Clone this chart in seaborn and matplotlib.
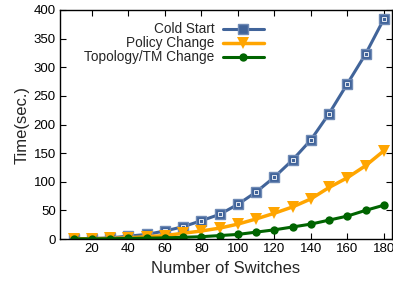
import pandas as pd
import matplotlib
matplotlib.use("Agg")
import matplotlib.pyplot as plt
import seaborn as sns

# Data
switches = [10, 20, 30, 40, 50, 60, 70, 80, 90, 100, 110, 120, 130, 140, 150, 160, 170, 180]
cold_start = [0.5, 0.8, 2, 5, 8, 14, 21.5, 32, 43, 60.5, 82, 108, 138, 173, 219, 271, 323, 384]
policy_change = [0.3, 0.5, 1, 2, 4, 6, 10, 14, 19, 26, 35, 45, 56, 70, 90, 107, 128, 154]
topology_change = [0.2, 0.3, 0.5, 1, 1.5, 2, 3, 4, 6, 8, 12, 16, 21, 26, 33, 40, 50, 59]

labels = ["Cold Start", "Policy Change", "Topology/TM Change"]
colors = ["#41649a", "#ffa500", "#006400"]

df = pd.DataFrame({"switches": switches, "Cold Start": cold_start,
                   "Policy Change": policy_change,
                   "Topology/TM Change": topology_change})

sns.set_style("ticks")
plt.rcParams["font.family"] = ["Liberation Sans", "DejaVu Sans"]

fig = plt.figure(figsize=(3.93, 2.82), dpi=100)
ax = fig.add_axes([60 / 393, 1 - 239 / 282, 332 / 393, 229 / 282])

# Cold start: filled squares with a small white box inside
sns.lineplot(data=df, x="switches", y="Cold Start", ax=ax, color=colors[0],
             linewidth=2.2, marker="s", markersize=7.5, markeredgecolor="#6f8ab5",
             markeredgewidth=1, label=labels[0])
ax.plot(df["switches"], df["Cold Start"], linestyle="none", marker="s",
        markersize=2.5, markerfacecolor="none", markeredgecolor="white",
        markeredgewidth=0.6)
sns.lineplot(data=df, x="switches", y="Policy Change", ax=ax, color=colors[1],
             linewidth=2.5, marker="v", markersize=8.5, markeredgewidth=0,
             label=labels[1])
sns.lineplot(data=df, x="switches", y="Topology/TM Change", ax=ax, color=colors[2],
             linewidth=2.2, marker="o", markersize=6, markeredgewidth=0,
             label=labels[2])

ax.set_xlim(2.5, 184.5)
ax.set_ylim(0, 400)
ax.set_xticks(range(20, 181, 20))
ax.set_yticks(range(0, 401, 50))
ax.tick_params(direction="in", length=4, width=0.8, top=True, right=True,
               labelsize=9.5, colors="black", pad=3)
for s in ax.spines.values():
    s.set_color("black")
    s.set_linewidth(1)

ax.set_xlabel("Number of Switches", fontsize=12)
ax.set_ylabel("Time(sec.)", fontsize=12, labelpad=3)

ax.legend(loc="upper right", bbox_to_anchor=(0.63, 0.97), frameon=False,
          markerfirst=False, fontsize=9.8, handlelength=3.0, labelspacing=0.0,
          borderaxespad=0, handletextpad=0.6)

fig.savefig("out.png", dpi=100)
